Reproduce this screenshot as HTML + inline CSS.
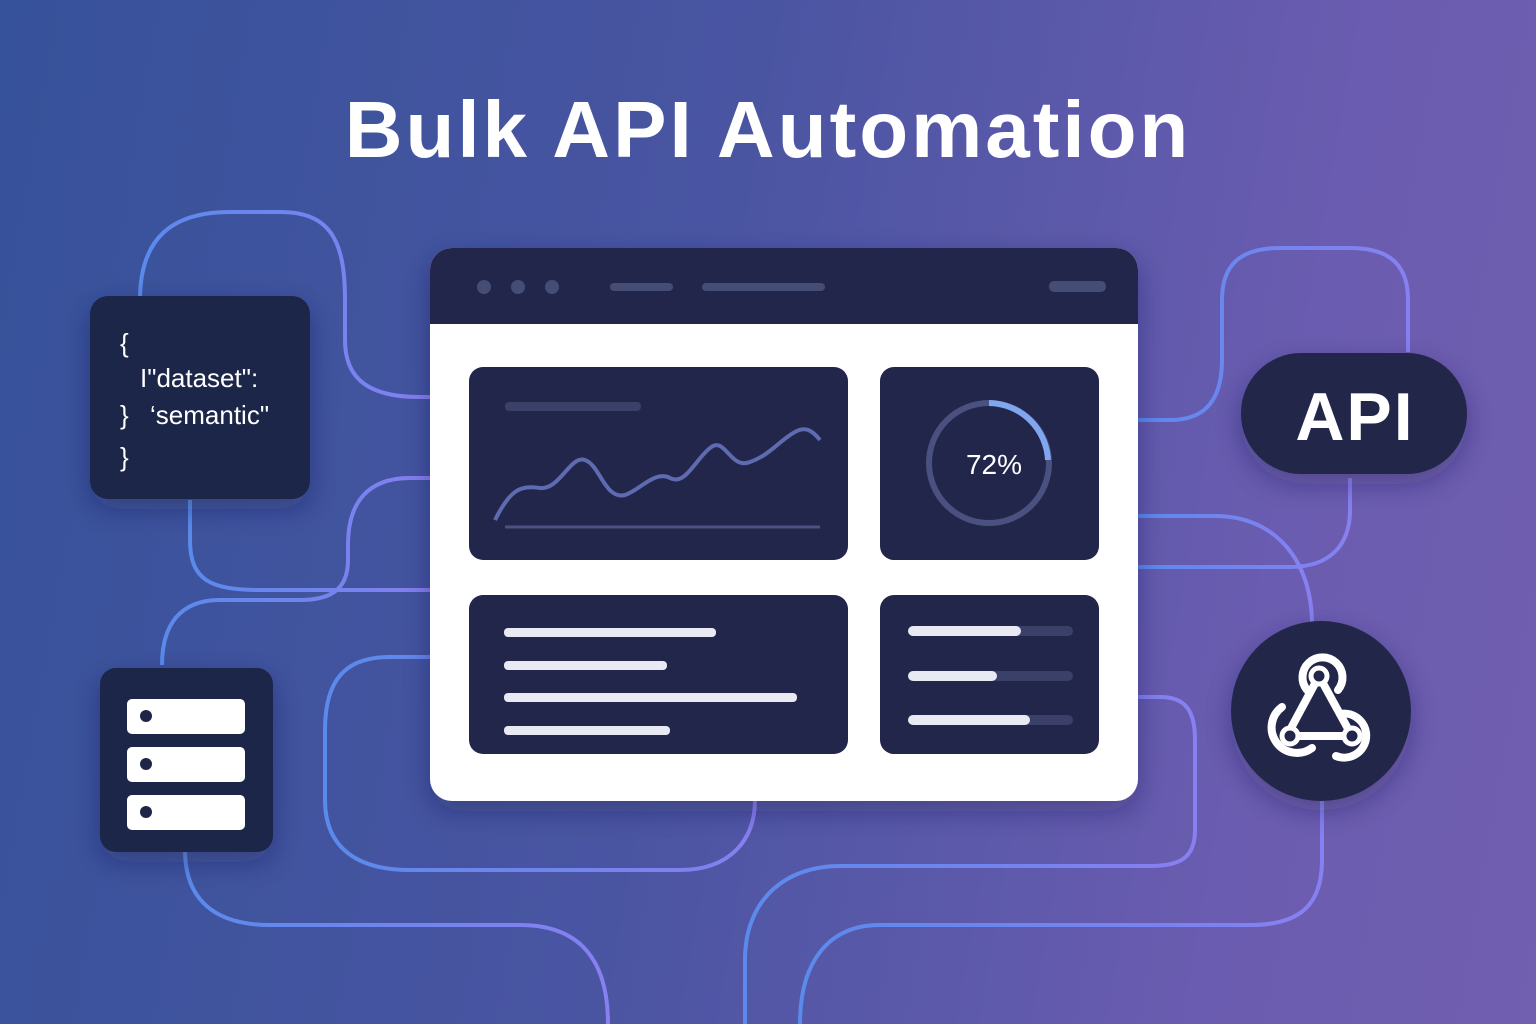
<!DOCTYPE html>
<html><head><meta charset="utf-8"><style>
html,body{margin:0;padding:0}
body{width:1536px;height:1024px;overflow:hidden;background:linear-gradient(100deg,#36529a 0%,#4a55a2 45%,#6a5cb0 80%,#715fb0 100%);font-family:"Liberation Sans",sans-serif}
</style></head><body>
<svg width="1536" height="1024" viewBox="0 0 1536 1024" xmlns="http://www.w3.org/2000/svg" style="position:absolute;left:0;top:0">
<defs>
<linearGradient id="ln" x1="0" x2="1"><stop offset="0" stop-color="#5c8df0"/><stop offset="1" stop-color="#8a82f5"/></linearGradient>
<filter id="sh" x="-20%" y="-20%" width="140%" height="150%"><feDropShadow dx="0" dy="10" stdDeviation="14" flood-color="#1a1f4a" flood-opacity="0.35"/></filter>
</defs>
<g fill="none" stroke="url(#ln)" stroke-width="4" opacity="0.95">
<path d="M140 300 C140 240 170 212 230 212 L280 212 C330 212 345 240 345 300 L345 340 C345 380 370 397 420 397 L432 397"/>
<path d="M190 500 L190 540 C190 580 210 590 260 590 L432 590"/>
<path d="M432 478 L410 478 C370 478 348 500 348 545 L348 560 C348 590 330 600 300 600 L220 600 C180 600 162 625 162 665"/>
<path d="M432 657 L390 657 C345 657 325 680 325 730 L325 800 C325 850 360 870 410 870 L680 870 C730 870 755 840 755 800"/>
<path d="M185 850 C185 900 215 925 270 925 L520 925 C580 925 608 960 608 1024"/>
<path d="M1138 420 L1170 420 C1205 420 1222 400 1222 360 L1222 300 C1222 265 1240 248 1280 248 L1350 248 C1390 248 1408 265 1408 300 L1408 352"/>
<path d="M1138 567 L1290 567 C1330 567 1350 545 1350 510 L1350 478"/>
<path d="M1138 516 L1215 516 C1275 516 1312 560 1312 625"/>
<path d="M1138 697 L1160 697 C1185 697 1195 710 1195 740 L1195 830 C1195 858 1180 866 1150 866 L840 866 C785 866 745 900 745 960 L745 1024"/>
<path d="M1322 800 L1322 860 C1322 905 1300 925 1250 925 L880 925 C830 925 800 960 800 1024"/>
</g>
<text x="768" y="157" text-anchor="middle" font-family="Liberation Sans" font-weight="bold" font-size="80" letter-spacing="3" fill="#fff">Bulk API Automation</text>
<rect x="90" y="296" width="220" height="203" rx="18" fill="#1f2548" filter="url(#sh)"/>
<g fill="#fff" font-family="Liberation Sans" font-size="26">
<text x="120" y="352">{</text>
<text x="140" y="387">I"dataset":</text>
<text x="120" y="424">}</text><text x="150" y="424">‘semantic"</text>
<text x="120" y="466">}</text>
</g>
<rect x="100" y="668" width="173" height="184" rx="16" fill="#1f2548" filter="url(#sh)"/>
<g fill="#fff"><rect x="127" y="699" width="118" height="35" rx="5"/><rect x="127" y="747" width="118" height="35" rx="5"/><rect x="127" y="795" width="118" height="35" rx="5"/></g>
<g fill="#1f2548"><circle cx="146" cy="716" r="6"/><circle cx="146" cy="764" r="6"/><circle cx="146" cy="812" r="6"/></g>
<g filter="url(#sh)">
<rect x="430" y="248" width="708" height="553" rx="22" fill="#fff"/>
</g>
<path d="M452 248 H1116 A22 22 0 0 1 1138 270 V324 H430 V270 A22 22 0 0 1 452 248Z" fill="#22264a"/>
<g fill="#464d75"><circle cx="484" cy="287" r="7"/><circle cx="518" cy="287" r="7"/><circle cx="552" cy="287" r="7"/>
<rect x="610" y="283" width="63" height="8" rx="4"/><rect x="702" y="283" width="123" height="8" rx="4"/><rect x="1049" y="281" width="57" height="11" rx="5"/></g>
<g fill="#22264a">
<rect x="469" y="367" width="379" height="193" rx="14"/>
<rect x="880" y="367" width="219" height="193" rx="14"/>
<rect x="469" y="595" width="379" height="159" rx="14"/>
<rect x="880" y="595" width="219" height="159" rx="14"/>
</g>
<rect x="505" y="402" width="136" height="9" rx="4" fill="#3a4068"/>
<line x1="505" y1="527" x2="820" y2="527" stroke="#4b5280" stroke-width="3"/>
<path d="M495 520 C510 490 520 485 540 488 C560 490 570 455 585 460 C600 465 605 500 625 495 C640 490 655 470 670 478 C685 486 695 460 710 448 C725 435 730 470 750 462 C770 455 780 440 795 432 C805 426 812 430 820 440" fill="none" stroke="#5f6bb0" stroke-width="4"/>
<circle cx="989" cy="463" r="60" fill="none" stroke="#4a5180" stroke-width="6"/>
<path d="M989 403 A60 60 0 0 1 1048 460" fill="none" stroke="#7fa6ef" stroke-width="6"/>
<text x="994" y="474" text-anchor="middle" fill="#fff" font-size="28" font-family="Liberation Sans">72%</text>
<g fill="#e8e9f2"><rect x="504" y="628" width="212" height="9" rx="4"/><rect x="504" y="661" width="163" height="9" rx="4"/><rect x="504" y="693" width="293" height="9" rx="4"/><rect x="504" y="726" width="166" height="9" rx="4"/></g>
<g fill="#3a4068"><rect x="908" y="626" width="165" height="10" rx="5"/><rect x="908" y="671" width="165" height="10" rx="5"/><rect x="908" y="715" width="165" height="10" rx="5"/></g>
<g fill="#e8e9f2"><rect x="908" y="626" width="113" height="10" rx="5"/><rect x="908" y="671" width="89" height="10" rx="5"/><rect x="908" y="715" width="122" height="10" rx="5"/></g>
<rect x="1241" y="353" width="226" height="121" rx="60" fill="#22264a" filter="url(#sh)"/>
<text x="1355" y="440" text-anchor="middle" fill="#fff" font-weight="bold" font-size="68" letter-spacing="2" font-family="Liberation Sans">API</text>
<circle cx="1321" cy="711" r="90" fill="#22264a" filter="url(#sh)"/>
<g fill="none" stroke="#fff" stroke-width="8" stroke-linecap="round">
<line x1="1319" y1="676" x2="1352" y2="736"/>
<line x1="1319" y1="676" x2="1290" y2="730"/>
<line x1="1290" y1="736" x2="1352" y2="736"/>
<path d="M1307 690 A20 20 0 1 1 1338 690"/>
<path d="M1282 707 A22 22 0 1 0 1312 748"/>
<path d="M1340 714 A22 22 0 1 1 1336 756"/>
</g>
<g fill="#22264a" stroke="#fff" stroke-width="5"><circle cx="1319" cy="676" r="8"/><circle cx="1290" cy="736" r="8"/><circle cx="1352" cy="736" r="8"/></g>
</svg>
</body></html>
